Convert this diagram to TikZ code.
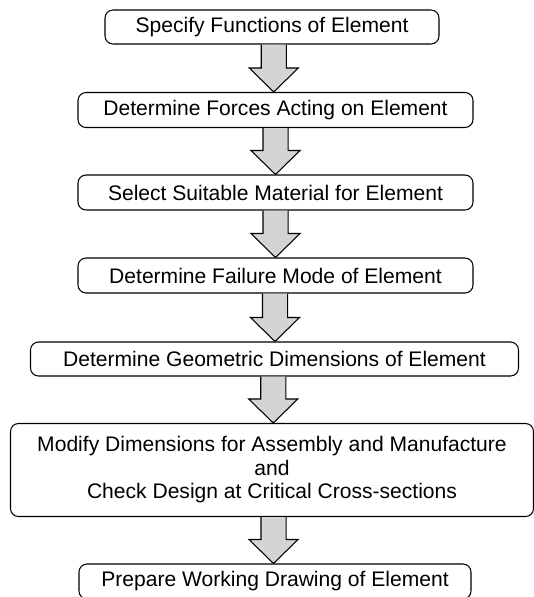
\documentclass[tikz,border=0pt]{standalone}
\usepackage{fontspec}
\setmainfont{Liberation Sans}
\usepackage{tikz}
\usetikzlibrary{calc}
\definecolor{arrowgray}{RGB}{212, 212, 212}

% block arrow from the bottom of one box to the top of the next
\newcommand{\downblock}[2]{%
  \draw[bigarrow] let \p1=(#1.south), \p2=(#2.north), \p3=($(#1.south)!0.5!(#2.north)$) in
    (\x3-9.4pt,\y1) -- (\x3-9.4pt,\y2+18pt) -- (\x3-18.4pt,\y2+18pt) -- (\x3,\y2)
    -- (\x3+18.4pt,\y2+18pt) -- (\x3+9.4pt,\y2+18pt) -- (\x3+9.4pt,\y1);
}

\begin{document}
\begin{tikzpicture}[
    x=0.75pt, y=-0.75pt,
    stepbox/.style={rectangle, draw=black, line width=0.8pt, rounded corners=6pt, align=center, inner sep=0pt, font=\fontsize{15.8}{17.6}\selectfont},
    bigarrow/.style={draw=black, line width=0.8pt, fill=arrowgray, line join=miter}
]
    \useasboundingbox (0,0) rectangle (534,597);

    \node[stepbox, minimum width=250.5pt, minimum height=25.5pt] (spec) at (272, 27) {Specify Functions of Element};
    \node[stepbox, minimum width=296.25pt, minimum height=26.25pt] (forces) at (275.5, 110) {Determine Forces Acting on Element};
    \node[stepbox, minimum width=296.25pt, minimum height=26.25pt] (material) at (275.5, 192.5) {Select Suitable Material for Element};
    \node[stepbox, minimum width=296.25pt, minimum height=26.25pt] (failure) at (275.5, 275.5) {Determine Failure Mode of Element};
    \node[stepbox, minimum width=366pt, minimum height=25.5pt] (geometry) at (274.5, 359) {Determine Geometric Dimensions of Element};
    \node[stepbox, minimum width=392.25pt, minimum height=69.75pt] (modify) at (272, 470) {Modify Dimensions for Assembly and Manufacture\\and\\Check Design at Critical Cross-sections};
    \node[stepbox, minimum width=294pt, minimum height=26.25pt] (drawing) at (275, 581.5) {Prepare Working Drawing of Element};

    \downblock{spec}{forces}
    \downblock{forces}{material}
    \downblock{material}{failure}
    \downblock{failure}{geometry}
    \downblock{geometry}{modify}
    \downblock{modify}{drawing}
\end{tikzpicture}
\end{document}
